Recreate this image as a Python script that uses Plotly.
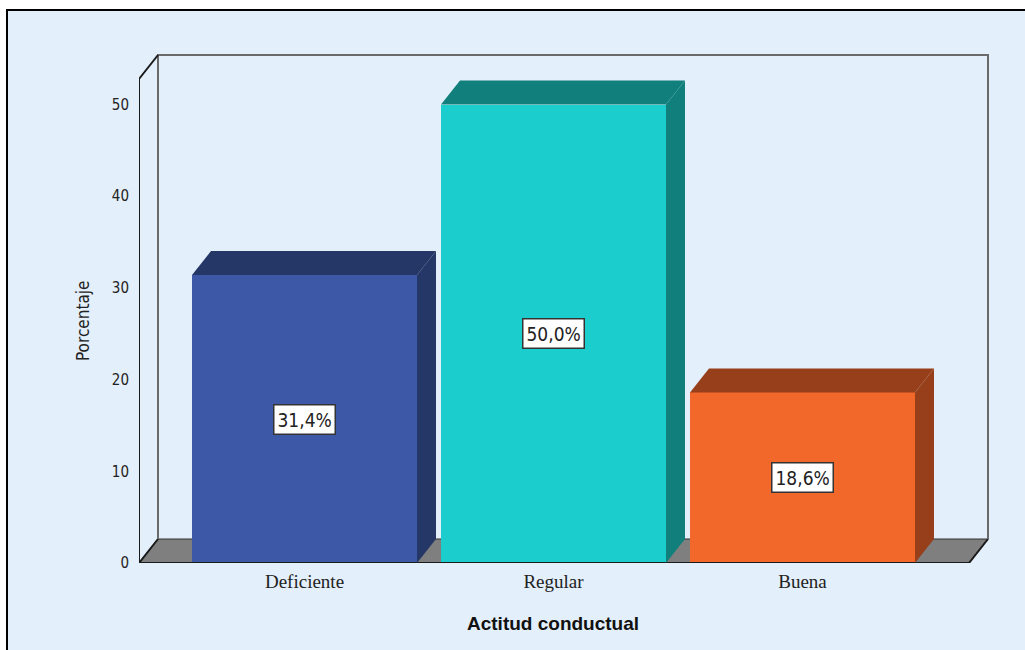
import plotly.graph_objects as go

# ---- data ----
categories = ["Deficiente", "Regular", "Buena"]
percentages = [31.4, 50.0, 18.6]
value_labels = ["31,4%", "50,0%", "18,6%"]
front_colors = ["#3E58A8", "#1CCDCD", "#F2682A"]
shade_colors = ["#253766", "#117F7B", "#963F1A"]
y_ticks = [0, 10, 20, 30, 40, 50]
x_title = "Actitud conductual"
y_title = "Porcentaje"

# ---- layout geometry ----
W, H = 1025, 650
PAD = 3  # px of extra room so the back-wall edges are not clipped
L, R, T, B = 139, 37 - PAD, 55 - PAD, 87
PW, PH = W - L - R, H - T - B
X_SCALE = 249.0   # px per category unit
Y_SCALE = 9.17    # px per percent
X0 = -0.6647
BOX_X1 = 2.7450
BOX_Y1 = 55.40
X1 = BOX_X1 + PAD / X_SCALE
Y0 = 0.0
Y1 = BOX_Y1 + PAD / Y_SCALE
DX = 0.0763   # depth offset (x units)
DY = 2.617    # depth offset (y units)
BAR_W = 0.9036
BG = "#E3EFFB"

NARROW = "DejaVu Sans Condensed, Liberation Sans Narrow, sans-serif"
SERIF = "Liberation Serif, Times New Roman, serif"
SANS = "Liberation Sans, Arial, sans-serif"


def px2paper_x(px):
    return (px - L) / PW


def px2paper_y(py):
    return (H - B - py) / PH


fig = go.Figure()
fig.add_trace(go.Bar(
    x=list(range(len(categories))), y=percentages, width=BAR_W,
    marker=dict(color=front_colors, line=dict(width=0)),
    hoverinfo="skip", showlegend=False,
))

shapes = []
# outer frame
shapes.append(dict(type="rect", xref="paper", yref="paper",
                   x0=px2paper_x(-5), x1=px2paper_x(W + 5), y0=px2paper_y(-5), y1=px2paper_y(10),
                   fillcolor="white", line=dict(width=0), layer="below"))
shapes.append(dict(type="rect", xref="paper", yref="paper",
                   x0=px2paper_x(-5), x1=px2paper_x(7), y0=px2paper_y(-5), y1=px2paper_y(H + 5),
                   fillcolor="white", line=dict(width=0), layer="below"))
shapes.append(dict(type="path", xref="paper", yref="paper",
                   path=f"M {px2paper_x(7)},{px2paper_y(H + 5)} L {px2paper_x(7)},{px2paper_y(10)} L {px2paper_x(W + 5)},{px2paper_y(10)}",
                   line=dict(color="black", width=2), layer="below"))

# floor
shapes.append(dict(type="path", xref="x", yref="y",
                   path=f"M {X0},{Y0} L {BOX_X1-DX},{Y0} L {BOX_X1},{DY} L {X0+DX},{DY} Z",
                   fillcolor="#7F7F7F", line=dict(color="#333333", width=1), layer="below"))
shapes.append(dict(type="line", xref="x", yref="y", x0=X0, x1=BOX_X1 - DX, y0=Y0, y1=Y0,
                   line=dict(color="#1a1a1a", width=2), layer="above"))
shapes.append(dict(type="line", xref="x", yref="y", x0=BOX_X1 - DX, x1=BOX_X1, y0=Y0, y1=DY,
                   line=dict(color="#1a1a1a", width=2), layer="below"))
shapes.append(dict(type="line", xref="x", yref="y", x0=X0, x1=X0 + DX, y0=Y0, y1=DY,
                   line=dict(color="#1a1a1a", width=2), layer="below"))
# back wall
shapes.append(dict(type="path", xref="x", yref="y",
                   path=f"M {X0+DX},{DY} L {X0+DX},{BOX_Y1} L {BOX_X1},{BOX_Y1} L {BOX_X1},{DY}",
                   line=dict(color="#6A6A6A", width=2), layer="below"))
# left wall
shapes.append(dict(type="path", xref="x", yref="y",
                   path=f"M {X0},{Y0} L {X0},{BOX_Y1-DY} L {X0+DX},{BOX_Y1}",
                   line=dict(color="#1a1a1a", width=2), layer="below"))

# 3D faces of bars
for i, v in enumerate(percentages):
    xl, xr = i - BAR_W / 2, i + BAR_W / 2
    shapes.append(dict(type="path", xref="x", yref="y",
                       path=f"M {xr},{0} L {xr+DX},{DY} L {xr+DX},{v+DY} L {xr},{v} Z",
                       fillcolor=shade_colors[i], line=dict(width=0), layer="above"))
    shapes.append(dict(type="path", xref="x", yref="y",
                       path=f"M {xl},{v} L {xl+DX},{v+DY} L {xr+DX},{v+DY} L {xr},{v} Z",
                       fillcolor=shade_colors[i], line=dict(width=0), layer="above"))

annotations = []
for i, v in enumerate(percentages):
    annotations.append(dict(x=i, y=v / 2, xref="x", yref="y", text=value_labels[i],
                            showarrow=False, bgcolor="white", bordercolor="#333333",
                            borderwidth=1.5, borderpad=3,
                            xanchor="center", yanchor="middle",
                            font=dict(family=NARROW, size=19, color="#222222")))
annotations.append(dict(x=px2paper_x(553), y=px2paper_y(623), xref="paper", yref="paper",
                        text=f"<b>{x_title}</b>", showarrow=False,
                        xanchor="center", yanchor="middle",
                        font=dict(family=SANS, size=19, color="#111111")))
annotations.append(dict(x=px2paper_x(83), y=px2paper_y(321), xref="paper", yref="paper",
                        text=y_title, showarrow=False, textangle=-90,
                        xanchor="center", yanchor="middle",
                        font=dict(family=NARROW, size=17, color="#222222")))

fig.update_layout(
    width=W, height=H,
    margin=dict(l=L, r=R, t=T, b=B, pad=0),
    paper_bgcolor=BG, plot_bgcolor="rgba(0,0,0,0)",
    shapes=shapes, annotations=annotations,
    bargap=0,
    xaxis=dict(range=[X0, X1], tickvals=list(range(len(categories))), ticktext=categories,
               showgrid=False, zeroline=False, showline=False, ticks="",
               ticklabelstandoff=5,
               tickfont=dict(family=SERIF, size=19, color="#222222"), fixedrange=True),
    yaxis=dict(range=[Y0, Y1], tickvals=y_ticks, ticktext=[str(t) for t in y_ticks],
               showgrid=False, zeroline=False, showline=False, ticks="",
               ticklabelstandoff=9,
               tickfont=dict(family=NARROW, size=15, color="#222222"), fixedrange=True),
)

fig.write_html("out.html")
